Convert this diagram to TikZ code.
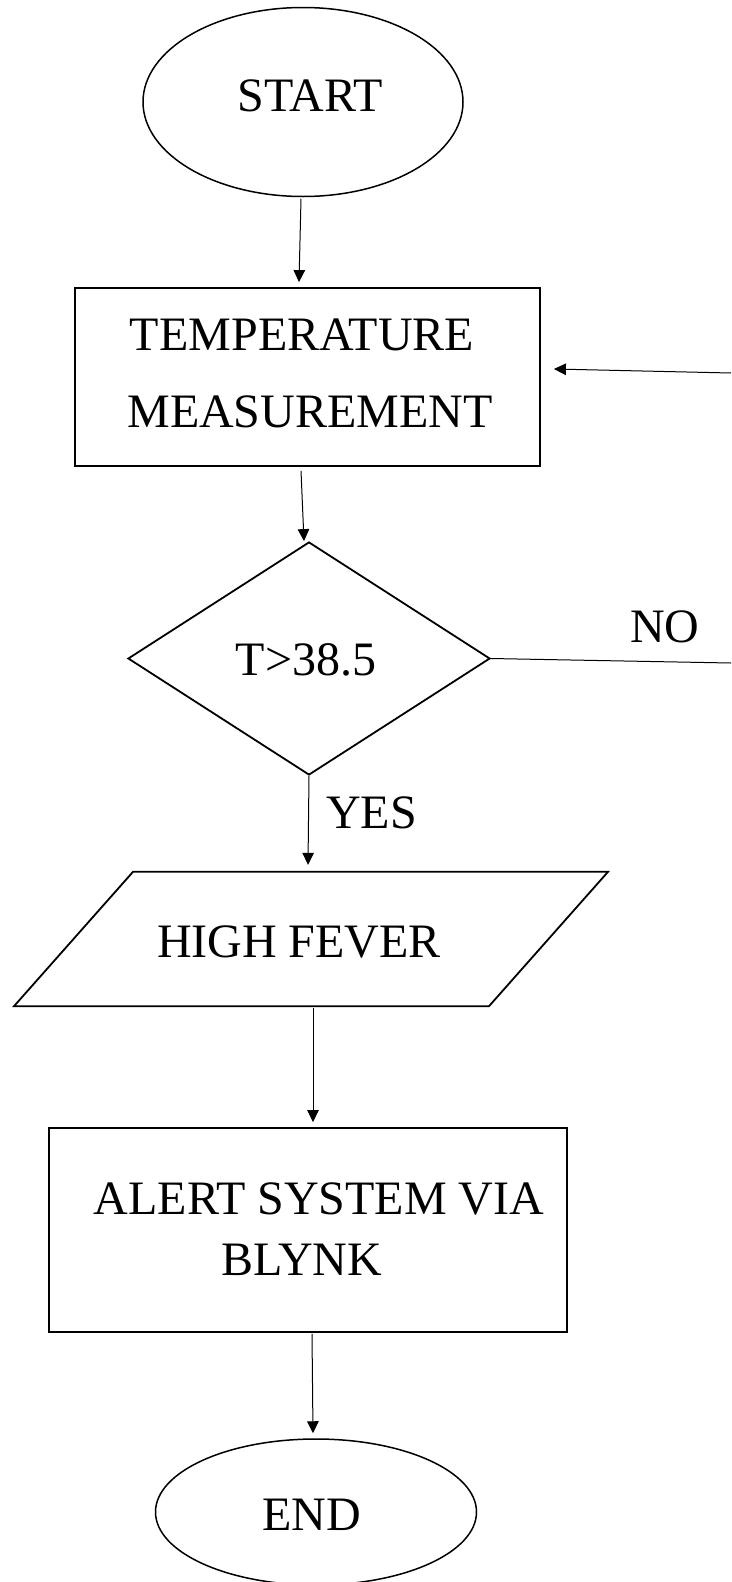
\documentclass[tikz,border=0pt]{standalone}
\usepackage{fontspec}
\setmainfont{Liberation Serif}
\usetikzlibrary{shapes.geometric,arrows.meta,calc}
\begin{document}
\begin{tikzpicture}[x=1pt,y=-1pt,
  shp/.style={draw, line width=1.8pt, inner sep=0pt},
  term/.style={shp, ellipse, line width=1.5pt},
  procbox/.style={shp, rectangle},
  decis/.style={shp, diamond},
  conn/.style={line width=1pt, -{Triangle[length=12pt,width=11.5pt]}},
  plainline/.style={line width=1pt},
  txt/.style={anchor=base, inner sep=0pt, font=\fontsize{48pt}{58pt}\selectfont}]
\useasboundingbox (0,0) rectangle (731,1582);
% shapes
\node[term, minimum width=320pt, minimum height=189pt] (start) at (303,102) {};
\node[procbox, minimum width=465pt, minimum height=178pt] (temp) at (307.5,377) {};
\node[decis, minimum width=362pt, minimum height=233pt] (dec) at (309,658.5) {};
\node[inner sep=0pt, minimum width=356pt, minimum height=134pt] (hf) at (311,939) {};
\draw[line width=1.8pt, line join=miter] ([xshift=-178pt]hf.north) -- ([xshift=297pt]hf.north) -- ([xshift=178pt]hf.south) -- ([xshift=-297pt]hf.south) -- cycle;
\node[procbox, minimum width=518pt, minimum height=204pt] (alert) at (308,1230) {};
\node[term, minimum width=321pt, minimum height=146pt] (endn) at (316,1512) {};
% texts
\node[txt] (tstart) at (310,111) {START};
\node[txt] (ttemp1) at (302,350) {TEMPERATURE};
\node[txt] (ttemp2) at (310,427) {MEASUREMENT};
\node[txt] (tdec) at (306,675) {T>38.5};
\node[txt] (tno) at (665,642) {NO};
\node[txt] (tyes) at (371.5,828) {YES};
\node[txt] (thf) at (299,957) {HIGH FEVER};
\node[txt] (talert1) at (319,1214) {ALERT SYSTEM VIA};
\node[txt] (talert2) at (302,1275) {BLYNK};
\node[txt] (tend) at (311.5,1530) {END};
% free ends at the right edge
\coordinate (noend) at (731,663);
\coordinate (retstart) at (731,373);
% connectors
\draw[conn] ([xshift=-2pt,yshift=-1.5pt]start.south) -- ([xshift=-8.5pt,yshift=5pt]temp.north);
\draw[conn] ([xshift=-6.5pt,yshift=-4pt]temp.south) -- ([xshift=-5pt]dec.north);
\draw[plainline] (dec.east) -- (noend);
\draw[conn] (retstart) -- ([xshift=13pt,yshift=8pt]temp.east);
\draw[conn] (dec.south) -- ([xshift=-3pt,yshift=7pt]hf.north);
\draw[conn] ([xshift=2pt,yshift=-2pt]hf.south) -- ([xshift=5pt,yshift=5pt]alert.north);
\draw[conn] ([xshift=4pt,yshift=-1pt]alert.south) -- ([xshift=-3pt,yshift=5pt]endn.north);
\end{tikzpicture}
\end{document}
